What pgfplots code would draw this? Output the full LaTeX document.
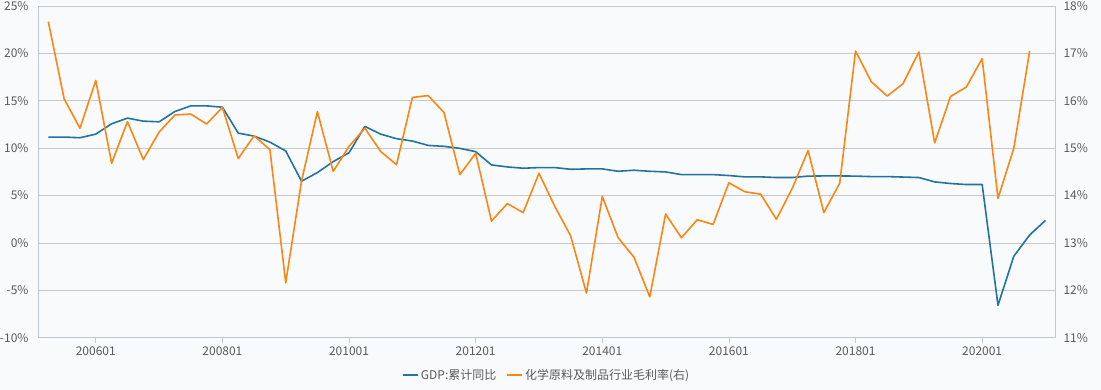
\documentclass[border=0pt]{standalone}
\usepackage{pgfplots}
\usepackage{pgfplotstable}
\pgfplotsset{compat=1.18}
\usepackage{fontspec}
\setmainfont{Noto Sans CJK SC}

\definecolor{bg}{RGB}{249,250,252}
\definecolor{gdpblue}{RGB}{33,115,160}
\definecolor{chemorange}{RGB}{250,135,20}
\definecolor{gridc}{RGB}{200,200,200}
\definecolor{axisc}{RGB}{190,200,215}
\definecolor{labc}{RGB}{90,90,90}

\pgfplotstableread{
x y
0 11.17
1 11.17
2 11.10
3 11.48
4 12.57
5 13.17
6 12.85
7 12.78
8 13.87
9 14.46
10 14.46
11 14.32
12 11.59
13 11.27
14 10.64
15 9.70
16 6.51
17 7.42
18 8.58
19 9.52
20 12.29
21 11.48
22 11.00
23 10.75
24 10.29
25 10.19
26 9.98
27 9.63
28 8.23
29 8.02
30 7.88
31 7.95
32 7.95
33 7.77
34 7.81
35 7.81
36 7.56
37 7.67
38 7.56
39 7.49
40 7.21
41 7.21
42 7.21
43 7.11
44 6.97
45 6.97
46 6.90
47 6.90
48 7.05
49 7.07
50 7.07
51 7.05
52 7.00
53 7.00
54 6.95
55 6.90
56 6.44
57 6.27
58 6.16
59 6.16
60 -6.58
61 -1.40
62 0.84
63 2.38
}\gdp

\pgfplotstableread{
x y
0 17.67
1 16.04
2 15.42
3 16.43
4 14.68
5 15.56
6 14.76
7 15.34
8 15.70
9 15.72
10 15.51
11 15.86
12 14.78
13 15.26
14 14.97
15 12.16
16 14.31
17 15.77
18 14.51
19 15.04
20 15.42
21 14.93
22 14.65
23 16.07
24 16.11
25 15.75
26 14.44
27 14.89
28 13.46
29 13.83
30 13.64
31 14.47
32 13.77
33 13.15
34 11.94
35 13.98
36 13.11
37 12.70
38 11.86
39 13.61
40 13.11
41 13.49
42 13.39
43 14.27
44 14.08
45 14.03
46 13.50
47 14.15
48 14.95
49 13.64
50 14.26
51 17.05
52 16.40
53 16.10
54 16.36
55 17.03
56 15.11
57 16.09
58 16.29
59 16.89
60 13.94
61 15.00
62 17.05
}\chem

\pgfplotsset{
  common/.style={
    scale only axis, width=1016.5pt, height=331.7pt,
    xmin=-0.62, xmax=63.6,
    /pgf/number format/assume math mode=true,
    tick label style={font=\fontsize{12}{14}\selectfont, text=labc},
    axis line style={axisc, line width=0.8pt},
    ytick style={draw=none},
  }
}

\begin{document}
\begin{tikzpicture}
\fill[bg] (-38.5pt,-52.3pt) rectangle (1062.5pt,337.7pt);
\begin{axis}[common,
  ymin=-10, ymax=25, ytick={-10,-5,...,25},
  ymajorgrids, grid style={gridc, line width=0.8pt},
  axis x line*=bottom, axis y line*=left,
  xtick={3,11,...,59},
  xticklabels={200601,200801,201001,201201,201401,201601,201801,202001},
  xtick style={axisc, line width=0.8pt}, major tick length=5pt, tick align=outside,
  yticklabel={\pgfmathprintnumber{\tick}\%},
  yticklabel style={xshift=-1.5pt},
  xticklabel style={yshift=-1pt},
]
\addplot[gdpblue, line width=1.6pt, line join=round] table[x=x,y=y] {\gdp};
\end{axis}
\begin{axis}[common,
  ymin=11, ymax=18, ytick={11,12,...,18},
  axis y line*=right, axis x line=none,
  yticklabel={\pgfmathprintnumber{\tick}\%},
  yticklabel style={xshift=5pt},
  legend style={at={(0.5,-0.1125)}, anchor=center, draw=none, fill=none,
    legend columns=2, font=\fontsize{12}{14}\selectfont, text=labc,
    /tikz/every even column/.append style={column sep=8pt}},
  legend image code/.code={\draw[#1] (0pt,0pt) -- (15pt,0pt);},
]
\addlegendimage{gdpblue, line width=1.6pt}
\addlegendentry{GDP:累计同比}
\addplot[chemorange, line width=1.6pt, line join=round] table[x=x,y=y] {\chem};
\addlegendentry{化学原料及制品行业毛利率(右)}
\end{axis}
\pgfresetboundingbox
\path (-38.5pt,-52.3pt) rectangle (1062.5pt,337.7pt);
\end{tikzpicture}
\end{document}
